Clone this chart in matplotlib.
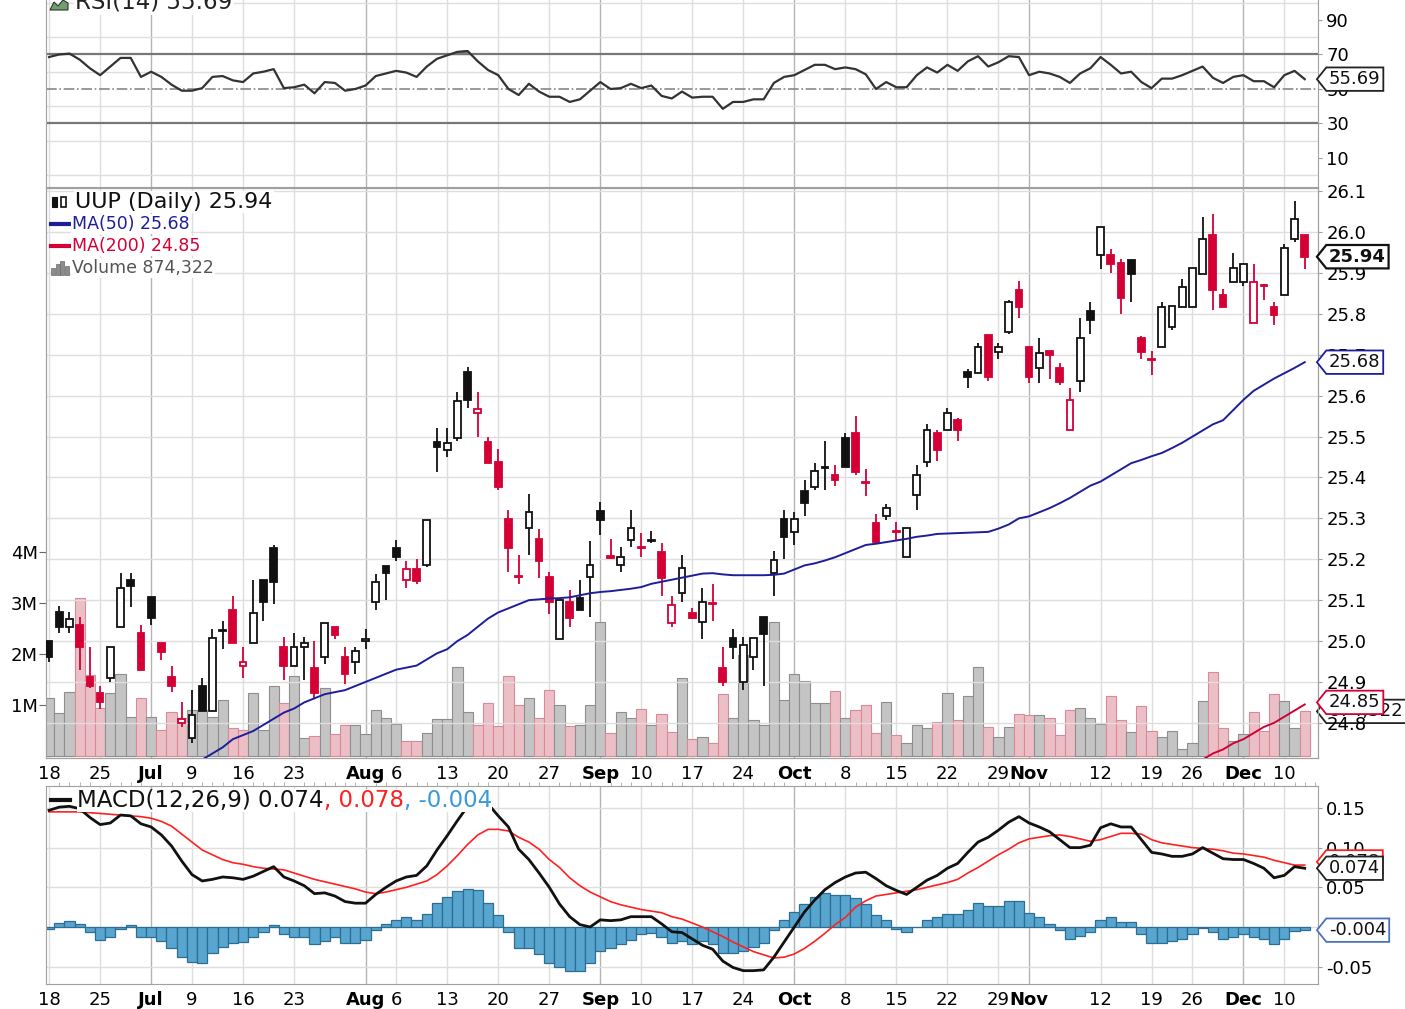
import numpy as np
import matplotlib
matplotlib.use("Agg")
import matplotlib.pyplot as plt
from matplotlib.path import Path
from matplotlib.lines import Line2D
from matplotlib.patches import Rectangle, Polygon
from matplotlib.ticker import MultipleLocator
from matplotlib.transforms import blended_transform_factory

plt.rcParams['font.family'] = 'DejaVu Sans'

# ---- UUP daily, Jun 18 .. Dec 12 (trading-day index) ----
opens = [25.00, 25.07, 25.035, 25.04, 24.912, 24.872, 24.91, 25.035, 25.15, 25.02,
         25.107, 24.995, 24.912, 24.80, 24.763, 24.89, 24.83, 25.025, 25.075, 24.94,
         24.995, 25.15, 25.228, 24.985, 24.94, 24.985, 24.934, 24.961, 25.034, 24.96,
         24.948, 25.0, 25.095, 25.183, 25.228, 25.15, 25.176, 25.186, 25.487, 25.467,
         25.496, 25.658, 25.557, 25.487, 25.437, 25.298, 25.16, 25.276, 25.25, 25.156,
         25.005, 25.095, 25.105, 25.156, 25.318, 25.207, 25.186, 25.247, 25.23, 25.245,
         25.218, 25.044, 25.117, 25.068, 25.046, 25.092, 24.934, 25.007, 24.90, 24.961,
         25.059, 25.166, 25.298, 25.266, 25.367, 25.377, 25.423, 25.406, 25.496, 25.508,
         25.388, 25.288, 25.306, 25.268, 25.205, 25.357, 25.437, 25.508, 25.516, 25.54,
         25.658, 25.655, 25.748, 25.707, 25.756, 25.858, 25.72, 25.667, 25.71, 25.667,
         25.516, 25.636, 25.807, 25.944, 25.944, 25.924, 25.932, 25.74, 25.69, 25.72,
         25.768, 25.817, 25.817, 25.897, 25.993, 25.846, 25.878, 25.878, 25.778, 25.87,
         25.817, 25.846, 25.983, 25.993]
highs = [25.00, 25.085, 25.07, 25.06, 24.985, 24.89, 24.985, 25.166, 25.166, 25.04,
         25.107, 24.995, 24.94, 24.85, 24.88, 24.91, 25.03, 25.05, 25.11, 24.985,
         25.15, 25.15, 25.236, 25.01, 25.02, 25.01, 25.0, 25.044, 25.034, 24.985,
         24.985, 25.03, 25.165, 25.183, 25.248, 25.195, 25.2, 25.296, 25.52, 25.52,
         25.61, 25.67, 25.61, 25.50, 25.47, 25.32, 25.21, 25.36, 25.275, 25.17,
         25.10, 25.125, 25.15, 25.245, 25.34, 25.25, 25.23, 25.32, 25.265, 25.27,
         25.24, 25.11, 25.21, 25.08, 25.13, 25.14, 24.985, 25.03, 25.01, 25.007,
         25.059, 25.22, 25.32, 25.315, 25.395, 25.436, 25.49, 25.43, 25.51, 25.55,
         25.42, 25.31, 25.335, 25.29, 25.276, 25.43, 25.53, 25.515, 25.57, 25.545,
         25.665, 25.73, 25.748, 25.73, 25.835, 25.88, 25.72, 25.74, 25.71, 25.68,
         25.62, 25.79, 25.83, 26.012, 25.96, 25.935, 25.932, 25.745, 25.71, 25.83,
         25.82, 25.885, 25.912, 26.036, 26.045, 25.862, 25.95, 25.922, 25.922, 25.873,
         25.83, 25.97, 26.075, 25.993]
lows = [24.95, 25.02, 25.02, 24.93, 24.885, 24.835, 24.90, 25.035, 25.083, 24.93,
        25.04, 24.953, 24.875, 24.79, 24.75, 24.83, 24.83, 24.98, 24.995, 24.91,
        24.995, 25.05, 25.09, 24.905, 24.94, 24.905, 24.86, 24.945, 25.005, 24.895,
        24.92, 24.98, 25.075, 25.10, 25.195, 25.13, 25.14, 25.18, 25.413, 25.45,
        25.49, 25.57, 25.50, 25.435, 25.37, 25.17, 25.14, 25.21, 25.155, 25.065,
        25.005, 25.035, 25.076, 25.06, 25.26, 25.20, 25.17, 25.23, 25.205, 25.24,
        25.11, 25.035, 25.095, 25.055, 25.005, 25.05, 24.89, 24.955, 24.88, 24.93,
        24.89, 25.11, 25.20, 25.235, 25.305, 25.37, 25.37, 25.38, 25.425, 25.405,
        25.355, 25.24, 25.295, 25.245, 25.205, 25.32, 25.425, 25.44, 25.516, 25.49,
        25.62, 25.655, 25.635, 25.69, 25.75, 25.79, 25.63, 25.63, 25.64, 25.625,
        25.516, 25.61, 25.75, 25.91, 25.90, 25.80, 25.83, 25.69, 25.65, 25.72,
        25.76, 25.817, 25.817, 25.897, 25.81, 25.817, 25.878, 25.868, 25.778, 25.835,
        25.773, 25.846, 25.977, 25.91]
closes = [24.96, 25.035, 25.055, 24.985, 24.89, 24.85, 24.985, 25.13, 25.135, 24.93,
          25.056, 24.973, 24.89, 24.81, 24.82, 24.83, 25.007, 25.027, 24.995, 24.948,
          25.068, 25.095, 25.145, 24.94, 24.985, 24.995, 24.873, 25.044, 25.015, 24.92,
          24.975, 25.005, 25.145, 25.166, 25.205, 25.176, 25.147, 25.296, 25.474, 25.484,
          25.587, 25.59, 25.567, 25.435, 25.377, 25.227, 25.156, 25.315, 25.196, 25.095,
          25.10, 25.056, 25.076, 25.186, 25.296, 25.203, 25.206, 25.276, 25.227, 25.247,
          25.154, 25.088, 25.178, 25.056, 25.095, 25.09, 24.90, 24.985, 24.99, 25.007,
          25.017, 25.198, 25.254, 25.298, 25.337, 25.416, 25.425, 25.394, 25.425, 25.413,
          25.386, 25.242, 25.325, 25.266, 25.276, 25.406, 25.516, 25.467, 25.557, 25.516,
          25.645, 25.72, 25.645, 25.72, 25.83, 25.817, 25.645, 25.705, 25.70, 25.633,
          25.59, 25.74, 25.785, 26.012, 25.922, 25.839, 25.897, 25.707, 25.687, 25.817,
          25.82, 25.866, 25.912, 25.983, 25.858, 25.817, 25.912, 25.922, 25.878, 25.868,
          25.797, 25.961, 26.032, 25.94]
volume_m = [1.14, 0.85, 1.26, 3.1, 1.58, 0.95, 1.24, 1.6, 0.77, 1.14,
            0.77, 0.51, 0.87, 0.75, 0.9, 0.9, 0.77, 1.1, 0.55, 0.5,
            1.24, 0.5, 1.38, 1.03, 1.56, 0.36, 0.4, 1.34, 0.43, 0.6,
            0.6, 0.43, 0.9, 0.75, 0.62, 0.3, 0.3, 0.46, 0.73, 0.73,
            1.75, 0.87, 0.61, 1.04, 0.58, 1.56, 1.0, 1.14, 0.75, 1.3,
            0.99, 0.58, 0.61, 0.99, 2.62, 0.45, 0.87, 0.75, 0.93, 0.61,
            0.83, 0.47, 1.52, 0.33, 0.37, 0.26, 1.22, 0.75, 1.99, 0.71,
            0.61, 2.62, 1.1, 1.6, 1.47, 1.03, 1.03, 1.28, 0.75, 0.9,
            1.0, 0.45, 1.06, 0.42, 0.26, 0.61, 0.55, 0.67, 1.24, 0.71,
            1.18, 1.75, 0.57, 0.37, 0.57, 0.83, 0.8, 0.8, 0.75, 0.41,
            0.91, 0.95, 0.75, 0.63, 1.18, 0.71, 0.47, 0.98, 0.49, 0.37,
            0.49, 0.14, 0.26, 1.07, 1.64, 0.55, 0.3, 0.43, 0.87, 0.49,
            1.22, 1.07, 0.55, 0.874322]
ma50_start = 14
ma50 = [24.69, 24.71, 24.725, 24.74, 24.76, 24.77, 24.78, 24.795, 24.81, 24.825,
        24.835, 24.85, 24.86, 24.87, 24.875, 24.88, 24.89, 24.90, 24.91, 24.92,
        24.93, 24.935, 24.94, 24.955, 24.97, 24.98, 25.0, 25.015, 25.035, 25.055,
        25.07, 25.08, 25.09, 25.10, 25.102, 25.104, 25.105, 25.107, 25.112, 25.117,
        25.12, 25.122, 25.125, 25.128, 25.132, 25.14, 25.145, 25.15, 25.155, 25.16,
        25.165, 25.166, 25.163, 25.161, 25.161, 25.161, 25.161, 25.162, 25.165, 25.175,
        25.185, 25.19, 25.197, 25.205, 25.215, 25.225, 25.235, 25.238, 25.242, 25.246,
        25.25, 25.255, 25.258, 25.262, 25.263, 25.264, 25.265, 25.266, 25.267, 25.275,
        25.285, 25.30, 25.305, 25.315, 25.325, 25.337, 25.35, 25.365, 25.38, 25.39,
        25.405, 25.42, 25.435, 25.443, 25.452, 25.46, 25.472, 25.485, 25.50, 25.515,
        25.53, 25.54, 25.565, 25.59, 25.612, 25.627, 25.642, 25.655, 25.668, 25.682]
ma200_start = 113
ma200 = [24.71, 24.725, 24.735, 24.75, 24.76, 24.775, 24.79, 24.80, 24.815, 24.83, 24.845]
rsi = [68.5, 70, 70.5, 67, 62, 58, 63, 68, 68, 57,
       60, 57, 52.5, 49, 49, 50.5, 57, 57.5, 55, 54,
       59, 60, 61.5, 50.5, 51, 52.5, 47.5, 54, 53.5, 49,
       50, 52, 57.5, 59, 60.5, 59.5, 57, 63, 67.5, 69.5,
       71.5, 72, 66, 61, 58, 50, 46.5, 53, 48.5, 45.5,
       45.5, 42.5, 44, 49, 54, 50, 50.5, 53, 50.5, 52,
       46, 44.5, 48.5, 45, 45.5, 45.5, 38.5, 42.5, 42.5, 44,
       44, 53.5, 57, 58, 61, 64, 64, 61.5, 62.5, 61.5,
       58.5, 50, 54, 51, 51, 58, 62.5, 59.5, 64, 60.5,
       66, 69, 63, 65.5, 69, 68.5, 58, 60, 59, 57,
       53.5, 59, 62, 68.5, 64, 59, 60, 54, 50.5, 56,
       56, 58, 60.5, 63, 56.5, 53.5, 57, 58, 54.5, 54.5,
       51, 58, 60.5, 55.69]
macd = [0.147, 0.151, 0.152, 0.149, 0.138, 0.129, 0.131, 0.141, 0.14, 0.13,
        0.126, 0.116, 0.102, 0.083, 0.066, 0.058, 0.06, 0.063, 0.062, 0.06,
        0.064, 0.07, 0.076, 0.063, 0.058, 0.052, 0.042, 0.043, 0.039, 0.032,
        0.03, 0.03, 0.041, 0.05, 0.058, 0.063, 0.065, 0.077, 0.097, 0.115,
        0.134, 0.152, 0.162, 0.155, 0.14, 0.126, 0.098, 0.085, 0.068, 0.05,
        0.029, 0.013, 0.003, 0.0, 0.009, 0.008, 0.009, 0.013, 0.013, 0.013,
        0.004, -0.006, -0.007, -0.015, -0.023, -0.028, -0.043, -0.051, -0.055, -0.055,
        -0.054, -0.038, -0.019, 0.0, 0.019, 0.034, 0.047, 0.056, 0.063, 0.068,
        0.069, 0.061, 0.052, 0.046, 0.041, 0.05, 0.059, 0.065, 0.074, 0.08,
        0.094, 0.107, 0.113, 0.122, 0.132, 0.139, 0.131, 0.126, 0.12, 0.11,
        0.10, 0.10, 0.103, 0.125, 0.13, 0.126, 0.126, 0.11, 0.094, 0.092,
        0.089, 0.089, 0.092, 0.10, 0.093, 0.086, 0.085, 0.085, 0.08, 0.074,
        0.062, 0.065, 0.076, 0.074]
signal = [0.145, 0.145, 0.145, 0.145, 0.144, 0.143, 0.142, 0.141, 0.14, 0.139,
          0.137, 0.133, 0.127, 0.117, 0.107, 0.097, 0.091, 0.085, 0.081, 0.079,
          0.076, 0.074, 0.073, 0.072, 0.068, 0.064, 0.06, 0.057, 0.054, 0.051,
          0.048, 0.044, 0.042, 0.044, 0.047, 0.05, 0.054, 0.058, 0.066, 0.077,
          0.09, 0.104, 0.116, 0.123, 0.123, 0.121, 0.113, 0.107, 0.098, 0.085,
          0.075, 0.062, 0.052, 0.044, 0.038, 0.032, 0.028, 0.025, 0.022, 0.02,
          0.018, 0.013, 0.01, 0.005, 0.0, -0.006, -0.012, -0.019, -0.025, -0.031,
          -0.035, -0.039, -0.038, -0.034, -0.027, -0.018, -0.008, 0.003, 0.012, 0.025,
          0.033, 0.039, 0.041, 0.043, 0.045, 0.047, 0.05, 0.053, 0.056, 0.06,
          0.068, 0.075, 0.083, 0.091, 0.098, 0.106, 0.111, 0.113, 0.115, 0.116,
          0.114, 0.111, 0.108, 0.11, 0.114, 0.118, 0.118, 0.117, 0.11, 0.106,
          0.104, 0.102, 0.10, 0.099, 0.098, 0.096, 0.093, 0.092, 0.09, 0.088,
          0.084, 0.081, 0.078, 0.078]
hist = [-0.002, 0.005, 0.007, 0.004, -0.006, -0.017, -0.013, -0.003, 0.002, -0.012,
        -0.012, -0.018, -0.027, -0.038, -0.044, -0.045, -0.033, -0.025, -0.02, -0.019,
        -0.012, -0.006, 0.002, -0.009, -0.012, -0.013, -0.022, -0.018, -0.013, -0.02,
        -0.02, -0.017, -0.004, 0.004, 0.009, 0.013, 0.009, 0.017, 0.03, 0.038,
        0.045, 0.048, 0.047, 0.03, 0.015, -0.006, -0.027, -0.027, -0.034, -0.045,
        -0.051, -0.055, -0.055, -0.045, -0.03, -0.027, -0.022, -0.016, -0.009, -0.008,
        -0.012, -0.02, -0.018, -0.022, -0.018, -0.021, -0.033, -0.033, -0.03, -0.025,
        -0.02, -0.004, 0.009, 0.019, 0.029, 0.038, 0.043, 0.04, 0.04, 0.036,
        0.029, 0.015, 0.009, -0.002, -0.006, 0.0, 0.009, 0.013, 0.017, 0.017,
        0.022, 0.03, 0.027, 0.027, 0.033, 0.033, 0.018, 0.013, 0.004, -0.004,
        -0.015, -0.011, -0.006, 0.009, 0.013, 0.006, 0.006, -0.009, -0.02, -0.02,
        -0.018, -0.015, -0.009, -0.001, -0.006, -0.015, -0.012, -0.009, -0.012, -0.015,
        -0.022, -0.015, -0.005, -0.004]
tick_idx = [0, 5, 10, 14, 19, 24, 31, 34, 39, 44, 49, 54, 58, 63, 68, 73, 78, 83, 88,
            93, 96, 103, 108, 112, 117, 121]
tick_lab = ['18', '25', 'Jul', '9', '16', '23', 'Aug', '6', '13', '20', '27', 'Sep', '10',
            '17', '24', 'Oct', '8', '15', '22', '29', 'Nov', '12', '19', '26', 'Dec', '10']
months = ['Jul', 'Aug', 'Sep', 'Oct', 'Nov', 'Dec']

RED = '#d40035'
BLACK = '#111111'
NAVY = '#1e1e9a'
GRID = '#dedede'
GRID_M = '#b4b4b4'
SPINE = '#a0a0a0'

W, H = 1405, 1009
fig = plt.figure(figsize=(W / 100, H / 100), dpi=100)


def rect(top, bottom):
    return [46 / W, 1 - bottom / H, (1318 - 46) / W, (bottom - top) / H]


ax_rsi = fig.add_axes(rect(-8, 187))
ax_vol = fig.add_axes(rect(188, 758))
ax_px = ax_vol.twinx()
ax_macd = fig.add_axes(rect(786, 984))

n = len(closes)
x = np.arange(n)
o, c = np.array(opens), np.array(closes)
hi, lo = np.array(highs), np.array(lows)
prev = np.r_[c[0], c[:-1]]
down = c < prev
col = np.where(down, RED, BLACK)
face = np.where(c >= o, 'white', col)
vface = np.where(down, '#ecbfc6', '#c4c4c4')
vedge = np.where(down, '#d98a98', '#8e8e8e')

xlim = (-0.3, 124.3)
for ax in (ax_rsi, ax_vol, ax_px, ax_macd):
    ax.set_xlim(*xlim)
    for s in ax.spines.values():
        s.set_color(SPINE)
for ax in (ax_rsi, ax_vol, ax_macd):
    for t, lab in zip(tick_idx, tick_lab):
        ax.axvline(t, color=GRID_M if lab in months else GRID, lw=1.0, zorder=0)

# ---- RSI ----
ax_rsi.set_ylim(-6.8, 106.2)
ax_rsi.set_yticks(np.arange(0, 101, 10), minor=True)
ax_rsi.grid(axis='y', which='minor', color=GRID, lw=1.0)
ax_rsi.axhline(70, color='#777777', lw=1.6)
ax_rsi.axhline(30, color='#777777', lw=1.6)
ax_rsi.axhline(50, color='#888888', lw=1.2, ls='-.')
r = np.array(rsi)
ax_rsi.fill_between(x, r, 70, where=r > 70, color='#6f9f6f', interpolate=True)
ax_rsi.plot(x, r, color='#333333', lw=1.6)
ax_rsi.yaxis.tick_right()
ax_rsi.set_yticks([10, 30, 50, 70, 90])
ax_rsi.tick_params(axis='y', labelsize=13, length=3, color=SPINE, pad=3)
ax_rsi.tick_params(axis='x', length=0, labelbottom=False)
ax_rsi.tick_params(axis='y', which='minor', length=0)

# ---- price + volume ----
ax_vol.set_ylim(-0.04, 11.14)
ax_vol.bar(x, volume_m, width=1.0, color=vface, edgecolor=vedge, lw=0.8, zorder=1)
ax_vol.set_yticks([1, 2, 3, 4])
ax_vol.set_yticklabels(['1M', '2M', '3M', '4M'])
ax_vol.tick_params(axis='y', labelsize=13, length=5, color='#666666', pad=1)
ax_vol.set_xticks(tick_idx)
ax_vol.set_xticklabels(tick_lab)
ax_vol.tick_params(axis='x', labelsize=13, length=0, pad=5)

ax_px.set_ylim(24.714, 26.108)
ax_px.set_yticks(np.round(np.arange(24.8, 26.15, 0.1), 1))
ax_px.yaxis.set_major_formatter(plt.FormatStrFormatter('%.1f'))
ax_px.grid(axis='y', color=GRID, lw=1.0)
ax_px.tick_params(axis='y', labelsize=13, length=3, color=SPINE, pad=3)
ax_px.vlines(x, lo, hi, color=col, lw=1.3, zorder=3)
ax_px.bar(x, np.maximum(np.abs(c - o), 0.002), bottom=np.minimum(o, c), width=0.66,
          color=face, edgecolor=col, lw=1.3, zorder=4)
ax_px.plot(x[ma50_start:], ma50, color=NAVY, lw=1.4, zorder=5)
ax_px.plot(x[ma200_start:], ma200, color=RED, lw=1.4, zorder=5)

# ---- MACD ----
ax_macd.set_ylim(-0.0718, 0.1776)
ax_macd.bar(x, hist, width=1.0, color='#58a6d0', edgecolor='#2b6e94', lw=0.9, zorder=2)
ax_macd.plot(x, signal, color='#ff2020', lw=1.2, zorder=3)
ax_macd.plot(x, macd, color='#111111', lw=2.0, zorder=4)
ax_macd.yaxis.tick_right()
ax_macd.set_yticks([-0.05, 0.0, 0.05, 0.10, 0.15])
ax_macd.set_yticklabels(['-0.05', '0.00', '0.05', '0.10', '0.15'])
ax_macd.grid(axis='y', color=GRID, lw=1.0)
ax_macd.tick_params(axis='y', labelsize=13, length=3, color=SPINE, pad=3)
ax_macd.set_xticks(tick_idx)
ax_macd.set_xticklabels(tick_lab)
ax_macd.tick_params(axis='x', which='major', labelsize=13, length=0, pad=5)
ax_macd.xaxis.set_minor_locator(MultipleLocator(1))
ax_macd.tick_params(axis='x', which='minor', top=True, bottom=False, direction='out',
                    length=3, color='#aaaaaa')

for ax in (ax_vol, ax_macd):
    for t in ax.get_xticklabels():
        if t.get_text() in months:
            t.set_fontweight('bold')


# ---- value tags on right ----
def tag_shape(x0, y0, width, height, mutation_size):
    pad = 0.15 * mutation_size
    x0, y0 = x0 - pad, y0 - pad
    x1, y1 = x0 + width + 2 * pad, y0 + height + 2 * pad
    tip = (y1 - y0) * 0.4
    return Path([(x0, y0), (x1, y0), (x1, y1), (x0, y1), (x0 - tip, (y0 + y1) / 2), (x0, y0)],
                closed=True)


def tag(ax, val, text, ec, bold=False):
    tr = blended_transform_factory(ax.transAxes, ax.transData)
    ax.text(1 + 11 / 1272, val, text, transform=tr, ha='left', va='center', fontsize=13,
            fontweight='bold' if bold else 'normal', color='#111111', clip_on=False, zorder=20,
            bbox=dict(boxstyle=tag_shape, fc='white', ec=ec, lw=1.6 if bold else 1.3))


tag(ax_rsi, rsi[-1], '55.69', '#222222')
tag(ax_vol, volume_m[-1], '874,322', '#222222')
tag(ax_px, closes[-1], '25.94', '#111111', bold=True)
tag(ax_px, ma50[-1], '25.68', NAVY)
tag(ax_px, 24.85, '24.85', RED)
tag(ax_macd, signal[-1] + 0.004, '0.078', '#ff2020')
tag(ax_macd, macd[-1], '0.074', '#222222')
tag(ax_macd, hist[-1], '-0.004', '#4a72b8')


# ---- legends (top-left of panels) ----
def ftext(px, py, s, pad=1.0, **kw):
    return fig.text(px / W, 1 - py / H, s, va='center', ha='left',
                    bbox=dict(facecolor='white', edgecolor='none', pad=pad), **kw)


def dash(px0, px1, py, color, lw=3):
    fig.add_artist(Line2D([px0 / W, px1 / W], [1 - py / H, 1 - py / H], color=color, lw=lw))


def pxrect(px0, py0, w, h, fc, ec='none', lw=0.8):
    fig.add_artist(Rectangle((px0 / W, 1 - (py0 + h) / H), w / W, h / H, facecolor=fc,
                             edgecolor=ec, lw=lw, transform=fig.transFigure, zorder=30))


ftext(75, 2, 'RSI(14) 55.69', fontsize=16.5, color='#222222')
fig.add_artist(Polygon([(50 / W, 1 - 10 / H), (54 / W, 1 - 2 / H), (58 / W, 1 - 6 / H),
                        (63 / W, 1 - 0 / H), (68 / W, 1 - 3 / H), (68 / W, 1 - 10 / H)],
                       closed=True, facecolor='#6f9f6f', edgecolor='#333333', lw=0.8,
                       transform=fig.transFigure, zorder=30))
ftext(75, 202, 'UUP (Daily) 25.94', fontsize=16, color='#111111')
pxrect(52, 197, 5, 10, '#111111', '#111111')
pxrect(61, 197, 5, 10, 'white', '#111111', 1.2)
ftext(72, 224, 'MA(50) 25.68', fontsize=12.5, color=NAVY)
dash(51, 70, 224, NAVY)
ftext(72, 246, 'MA(200) 24.85', fontsize=12.5, color=RED)
dash(51, 70, 246, RED)
ftext(72, 268, 'Volume 874,322', fontsize=12.5, color='#555555')
for k, hh in enumerate([7, 11, 14, 9]):
    pxrect(51 + 4.5 * k, 275 - hh, 4, hh, '#8c8c8c', '#6a6a6a', 0.5)

rend = fig.canvas.get_renderer()
parts = [('MACD(12,26,9) 0.074', '#111111'), (', 0.078', '#ff2020'), (', -0.004', '#3a9ad9')]
px0 = 77
for s, cc in parts:
    t = ftext(px0, 800, s, pad=0.0, fontsize=16.5, color=cc)
    bb = t.get_window_extent(renderer=rend)
    px0 += bb.width
dash(51, 70, 800, '#111111')

fig.savefig('out.png', dpi=100, facecolor='white')
